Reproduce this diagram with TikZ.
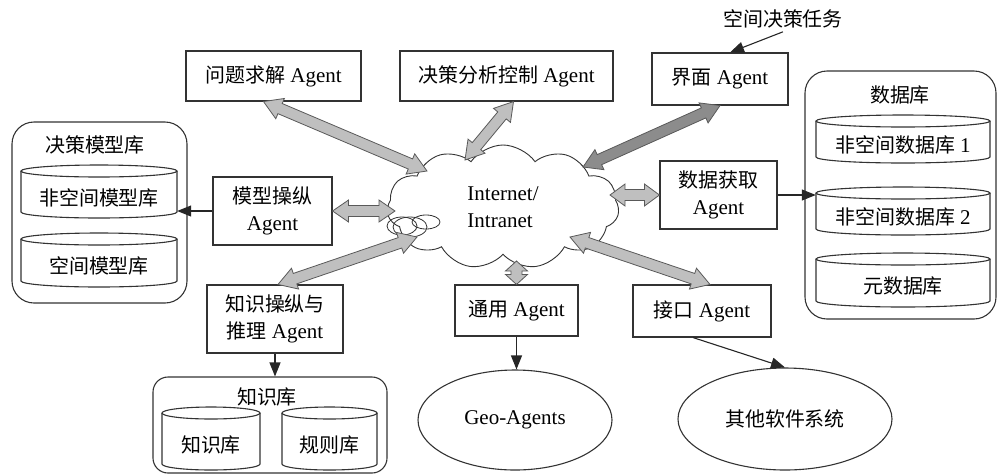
\documentclass[tikz,border=0pt]{standalone}
\usepackage{fontspec}
\setmainfont{Liberation Serif}
\newfontfamily\cjk[Scale=0.95]{Noto Sans CJK SC}
\newcommand\zh[1]{{\cjk #1}}
\usetikzlibrary{shapes.geometric,shapes.symbols,arrows.meta,calc}
\newcommand\fatarr[4][18]{%
\draw[fill=#2, draw=black!65, line width=0.8pt, line join=miter]
 (#3) -- ($(#3)!#1pt!(#4)!11pt!90:(#4)$) -- ($(#3)!#1pt!(#4)!5.5pt!90:(#4)$)
 -- ($(#4)!#1pt!(#3)!5.5pt!-90:(#3)$) -- ($(#4)!#1pt!(#3)!11pt!-90:(#3)$) -- (#4)
 -- ($(#4)!#1pt!(#3)!11pt!90:(#3)$) -- ($(#4)!#1pt!(#3)!5.5pt!90:(#3)$)
 -- ($(#3)!#1pt!(#4)!5.5pt!-90:(#4)$) -- ($(#3)!#1pt!(#4)!11pt!-90:(#4)$) -- cycle;}
\newcommand\cyl[6]{%
 \draw[box, fill=white] ({#2-#3},{#4+6}) -- ({#2-#3},{#5-6}) arc[start angle=180,end angle=360,x radius=#3pt,y radius=6pt] -- ({#2+#3},{#4+6});
 \draw[box] (#2,{#4+6}) ellipse[x radius=#3pt,y radius=6pt];
 \node[inner sep=0, minimum width=2*#3pt, minimum height=#5-#4-12] (#1) at (#2,{(#4+#5)/2+6}) {#6};}
\tikzset{
 box/.style={draw=black!80, line width=1.1pt},
 agent/.style={box, fill=white, inner sep=2pt, align=center},
 arr/.style={draw=black!85, line width=1.1pt, -{Triangle[length=14pt,width=11pt]}},
}
\begin{document}
\begin{tikzpicture}[x=1pt, y=-1pt, font=\fontsize{21}{27}\selectfont]
\useasboundingbox (0,0) rectangle (998,475);
% containers
\node[box, rounded corners=22pt, minimum width=175, minimum height=181] (mm) at (99.5,212.5) {};
\node (mmt) at (95,145) {\zh{决策模型库}};
\node[box, rounded corners=22pt, minimum width=191, minimum height=248] (db) at (900.5,195) {};
\node (dbt) at (900,95) {\zh{数据库}};
\node[box, rounded corners=15pt, minimum width=234, minimum height=96] (kb) at (270,425) {};
\node (kbt) at (267,397) {\zh{知识库}};
% cylinders
\cyl{m1}{99}{78}{165}{218}{\zh{非空间模型库}}
\cyl{m2}{99}{78}{233}{287}{\zh{空间模型库}}
\cyl{d1}{903}{87}{115}{163}{\zh{非空间数据库} 1}
\cyl{d2}{903}{87}{187}{235}{\zh{非空间数据库} 2}
\cyl{d3}{903}{87}{253}{307}{\zh{元数据库}}
\cyl{k1}{211}{49}{407}{470}{\zh{知识库}}
\cyl{k2}{329.5}{47.5}{407}{470}{\zh{规则库}}
% agents
\node[agent, minimum width=175, minimum height=50] (wt) at (273.5,76) {\zh{问题求解} Agent};
\node[agent, minimum width=213, minimum height=50] (jc) at (506.5,76) {\zh{决策分析控制} Agent};
\node[agent, minimum width=136, minimum height=52] (jm) at (720,79) {\zh{界面} Agent};
\node (task) at (783,19) {\zh{空间决策任务}};
\node[agent, minimum width=117, minimum height=68] (sj) at (718.5,195) {\zh{数据获取}\\Agent};
\node[agent, minimum width=138, minimum height=52] (jk) at (702,311) {\zh{接口} Agent};
\node[agent, minimum width=123, minimum height=51] (ty) at (516.5,310.5) {\zh{通用} Agent};
\node[agent, minimum width=136, minimum height=68] (zs) at (275,319) {\zh{知识操纵与}\\\zh{推理} Agent};
\node[agent, minimum width=119, minimum height=68] (mx) at (272.5,211) {\zh{模型操纵}\\Agent};
\node[box, ellipse, minimum width=214, minimum height=102] (other) at (785,419) {\zh{其他软件系统}};
\node[box, ellipse, minimum width=194, minimum height=100] (geo) at (515,420) {Geo-Agents};
% cloud
\node[cloud, box, line width=0.9pt, cloud puffs=11, cloud puff arc=110, aspect=1.9, minimum width=232, minimum height=124, inner sep=0, align=left, fill=white] (net) at (503,207) {Internet/\\Intranet};
\draw[box, line width=0.8pt] (402,226) ellipse[x radius=15pt, y radius=9pt];
\draw[box, line width=0.8pt] (410,227) ellipse[x radius=17pt, y radius=10pt];
\draw[box, line width=0.8pt] (426,222) ellipse[x radius=14pt, y radius=7pt];
% arrow ends
\coordinate (c1) at (427,171);
\coordinate (c2) at (465,160);
\coordinate (c3) at (583,167);
\coordinate (c4) at (610,195);
\coordinate (c5) at (395,211);
\coordinate (c6) at (417,237);
\coordinate (c7) at (516.5,261);
\coordinate (c8) at (570,237);
\coordinate (a1) at ([xshift=-10pt]wt.south);
\coordinate (a2) at ([xshift=7pt]jc.south);
\coordinate (a6) at ([xshift=3pt]zs.north);
\coordinate (a8) at ([xshift=8pt]jk.north);
\fatarr{black!25}{a1}{c1}
\fatarr{black!25}{a2}{c2}
\fatarr{black!45}{jm.south}{c3}
\fatarr[15]{black!25}{sj.west}{c4}
\fatarr[16]{black!25}{mx.east}{c5}
\fatarr{black!25}{a6}{c6}
\fatarr[10]{black!25}{ty.north}{c7}
\fatarr{black!25}{a8}{c8}
% thin arrows
\draw[arr] (task.south) -- ([xshift=10pt]jm.north);
\draw[arr] (sj.east) -- (sj.east -| d2.west);
\draw[arr] (mx.west) -- (mx.west -| m1.east);
\draw[arr] (zs.south) -- (zs.south |- kb.north);
\draw[arr] (ty.south) -- (ty.south |- geo.north);
\draw[arr] ([xshift=-9pt]jk.south) -- (other.north);
\end{tikzpicture}
\end{document}
